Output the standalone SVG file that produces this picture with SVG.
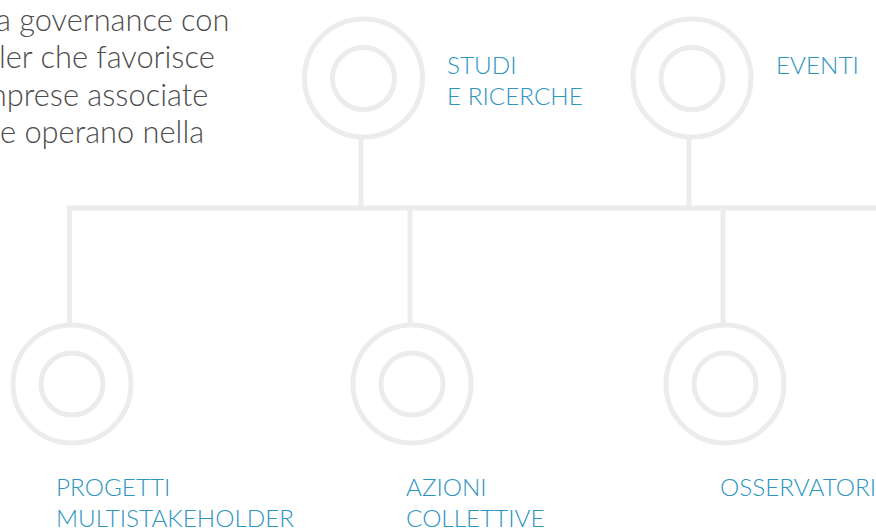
<svg xmlns="http://www.w3.org/2000/svg" width="876" height="528" viewBox="0 0 876 528">
<style>
.ring{fill:none;stroke:#ececee;stroke-width:5}
.conn{fill:none;stroke:#ececee;stroke-width:5}
.lbl{font-family:Lato,"Open Sans",sans-serif;font-weight:300;font-size:24.3px;fill:#2d95bf}
.body{font-family:Lato,"Open Sans",sans-serif;font-weight:300;font-size:30.8px;fill:#4d4d4d}
</style>
<rect width="876" height="528" fill="#ffffff"/>
<g id="intro-text" class="body">
<text x="-4" y="31">a governance con</text>
<text x="-1" y="68">ler che favorisce</text>
<text x="-18" y="106">mprese associate</text>
<text x="0" y="143">e operano nella</text>
</g>
<g id="connectors">
<line class="conn" x1="67" y1="208" x2="876" y2="208"/>
<line class="conn" x1="361" y1="138" x2="361" y2="208"/>
<line class="conn" x1="689" y1="138" x2="689" y2="208"/>
<line class="conn" x1="69.5" y1="208" x2="69.5" y2="324"/>
<line class="conn" x1="410" y1="208" x2="410" y2="324"/>
<line class="conn" x1="723" y1="208" x2="723" y2="324"/>
</g>
<g id="node-studi">
<circle class="ring" cx="363.5" cy="78" r="59"/>
<circle class="ring" cx="363.5" cy="78.5" r="31"/>
<text class="lbl" x="447" y="74">STUDI</text>
<text class="lbl" x="447" y="105">E RICERCHE</text>
</g>
<g id="node-eventi">
<circle class="ring" cx="692" cy="78" r="59"/>
<circle class="ring" cx="692" cy="78.5" r="31"/>
<text class="lbl" x="776" y="74">EVENTI</text>
</g>
<g id="node-progetti">
<circle class="ring" cx="72" cy="384" r="59"/>
<circle class="ring" cx="72" cy="384" r="31"/>
<text class="lbl" x="56" y="496">PROGETTI</text>
<text class="lbl" x="56" y="527">MULTISTAKEHOLDER</text>
</g>
<g id="node-azioni">
<circle class="ring" cx="412" cy="384" r="59"/>
<circle class="ring" cx="412" cy="384" r="31"/>
<text class="lbl" x="406" y="496">AZIONI</text>
<text class="lbl" x="406" y="527">COLLETTIVE</text>
</g>
<g id="node-osservatori">
<circle class="ring" cx="725" cy="384" r="59"/>
<circle class="ring" cx="725" cy="384" r="31"/>
<text class="lbl" x="720" y="496">OSSERVATORI</text>
</g>
</svg>
